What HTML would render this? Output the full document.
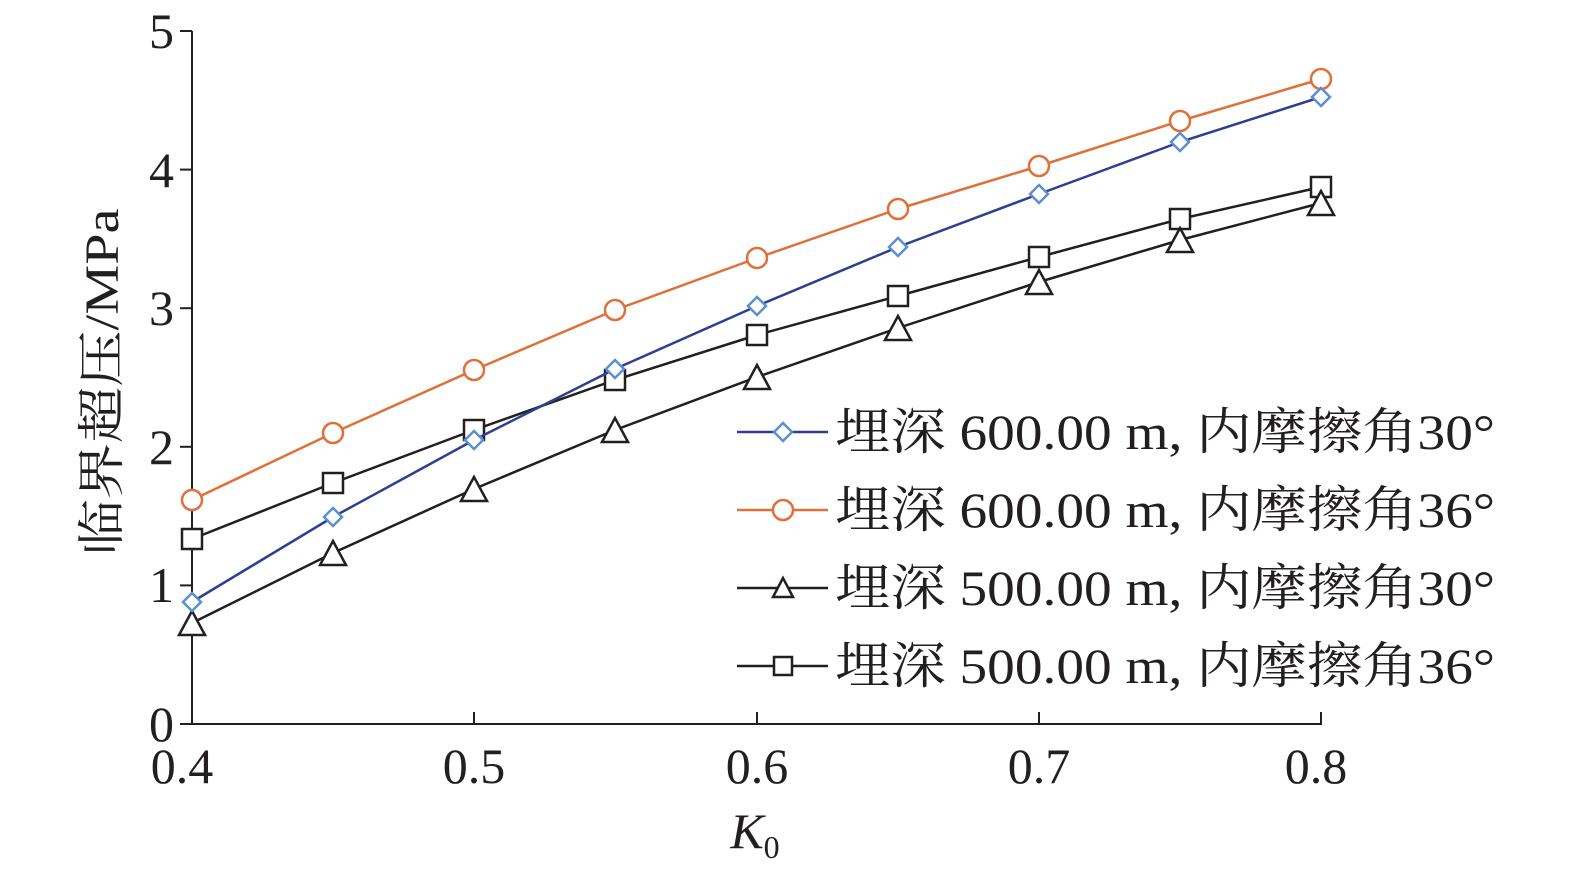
<!DOCTYPE html>
<html><head><meta charset="utf-8"><style>
html,body{margin:0;padding:0;background:#fff;}
svg{display:block;}
text{font-family:"Liberation Serif","Noto Serif CJK SC","Noto Sans CJK SC",serif;fill:#231f20;}
</style></head><body>
<svg width="1575" height="886" viewBox="0 0 1575 886" xmlns="http://www.w3.org/2000/svg">
<g stroke="#231f20" stroke-width="2" fill="none">
<line x1="192" y1="31" x2="192" y2="725"/>
<line x1="191" y1="724" x2="1322" y2="724"/>
<line x1="180" y1="31" x2="192" y2="31"/>
<line x1="180" y1="169.6" x2="192" y2="169.6"/>
<line x1="180" y1="308.2" x2="192" y2="308.2"/>
<line x1="180" y1="446.8" x2="192" y2="446.8"/>
<line x1="180" y1="585.4" x2="192" y2="585.4"/>
<line x1="180" y1="724" x2="192" y2="724"/>
<line x1="474" y1="724" x2="474" y2="712"/>
<line x1="757" y1="724" x2="757" y2="712"/>
<line x1="1039" y1="724" x2="1039" y2="712"/>
<line x1="1321" y1="724" x2="1321" y2="712"/>
</g>
<g font-size="50" text-anchor="end">
<text x="174" y="48">5</text><text x="174" y="187">4</text><text x="174" y="325">3</text>
<text x="174" y="464">2</text><text x="174" y="602">1</text><text x="174" y="741">0</text>
</g>
<g font-size="50" text-anchor="middle">
<text x="182" y="783">0.4</text><text x="474" y="783">0.5</text><text x="757" y="783">0.6</text>
<text x="1039" y="783">0.7</text><text x="1316" y="783">0.8</text>
</g>
<text x="755" y="848" font-size="50" font-style="italic" text-anchor="middle">K<tspan font-size="32" font-style="normal" dy="10">0</tspan></text>
<text transform="translate(118,382) rotate(-90)" font-size="48" text-anchor="middle" textLength="347" lengthAdjust="spacingAndGlyphs">临界超压/MPa</text>

<polyline fill="none" stroke="#e0703a" stroke-width="2.5" points="192,500 333,433 474,370 615,310 757,258 898,209 1039,166 1180,121 1321,79"/>
<g fill="#fff" stroke="#e0703a" stroke-width="2.5">
<circle cx="192" cy="500" r="10"/><circle cx="333" cy="433" r="10"/><circle cx="474" cy="370" r="10"/><circle cx="615" cy="310" r="10"/><circle cx="757" cy="258" r="10"/><circle cx="898" cy="209" r="10"/><circle cx="1039" cy="166" r="10"/><circle cx="1180" cy="121" r="10"/><circle cx="1321" cy="79" r="10"/>
</g>
<polyline fill="none" stroke="#231f20" stroke-width="2.5" points="192,539 333,483 474,430 615,380 757,335 898,296 1039,257 1180,219 1321,187"/>
<g fill="#fff" stroke="#231f20" stroke-width="2.5">
<rect x="182" y="529" width="20" height="20"/><rect x="323" y="473" width="20" height="20"/><rect x="464" y="420" width="20" height="20"/><rect x="605" y="370" width="20" height="20"/><rect x="747" y="325" width="20" height="20"/><rect x="888" y="286" width="20" height="20"/><rect x="1029" y="247" width="20" height="20"/><rect x="1170" y="209" width="20" height="20"/><rect x="1311" y="177" width="20" height="20"/>
</g>
<polyline fill="none" stroke="#231f20" stroke-width="2.5" points="192,623 333,553 474,489 615,430 757,377 898,328 1039,282 1180,240 1321,203"/>
<g fill="#fff" stroke="#231f20" stroke-width="2.5">
<polygon points="192,611 179,635 205,635"/><polygon points="333,541 320,565 346,565"/><polygon points="474,477 461,501 487,501"/><polygon points="615,418 602,442 628,442"/><polygon points="757,365 744,389 770,389"/><polygon points="898,316 885,340 911,340"/><polygon points="1039,270 1026,294 1052,294"/><polygon points="1180,228 1167,252 1193,252"/><polygon points="1321,191 1308,215 1334,215"/>
</g>
<polyline fill="none" stroke="#2e3f91" stroke-width="2.5" points="192,602 333,517 474,440 615,369 757,306 898,247 1039,194 1180,142 1321,97"/>
<g fill="#fff" stroke="#5b8fd0" stroke-width="2.5">
<polygon points="192,593 201,602 192,611 183,602"/><polygon points="333,508 342,517 333,526 324,517"/><polygon points="474,431 483,440 474,449 465,440"/><polygon points="615,360 624,369 615,378 606,369"/><polygon points="757,297 766,306 757,315 748,306"/><polygon points="898,238 907,247 898,256 889,247"/><polygon points="1039,185 1048,194 1039,203 1030,194"/><polygon points="1180,133 1189,142 1180,151 1171,142"/><polygon points="1321,88 1330,97 1321,106 1312,97"/>
</g>
<line x1="737" y1="432" x2="828" y2="432" stroke="#2e3f91" stroke-width="2.5"/>
<polygon points="783,423 792,432 783,441 774,432" fill="#fff" stroke="#5b8fd0" stroke-width="2.5"/>
<line x1="737" y1="510" x2="828" y2="510" stroke="#e0703a" stroke-width="2.5"/>
<circle cx="783" cy="510" r="10" fill="#fff" stroke="#e0703a" stroke-width="2.5"/>
<line x1="737" y1="588" x2="828" y2="588" stroke="#231f20" stroke-width="2.5"/>
<polygon points="783,578 773,597 793,597" fill="#fff" stroke="#231f20" stroke-width="2.5"/>
<line x1="737" y1="666" x2="828" y2="666" stroke="#231f20" stroke-width="2.5"/>
<rect x="774" y="657" width="18" height="18" fill="#fff" stroke="#231f20" stroke-width="2.5"/>
<g font-size="50">
<text x="835" y="449" textLength="660" lengthAdjust="spacingAndGlyphs">埋深 600.00 m, 内摩擦角30°</text>
<text x="835" y="527" textLength="660" lengthAdjust="spacingAndGlyphs">埋深 600.00 m, 内摩擦角36°</text>
<text x="835" y="605" textLength="660" lengthAdjust="spacingAndGlyphs">埋深 500.00 m, 内摩擦角30°</text>
<text x="835" y="683" textLength="660" lengthAdjust="spacingAndGlyphs">埋深 500.00 m, 内摩擦角36°</text>
</g>
</svg>
</body></html>
